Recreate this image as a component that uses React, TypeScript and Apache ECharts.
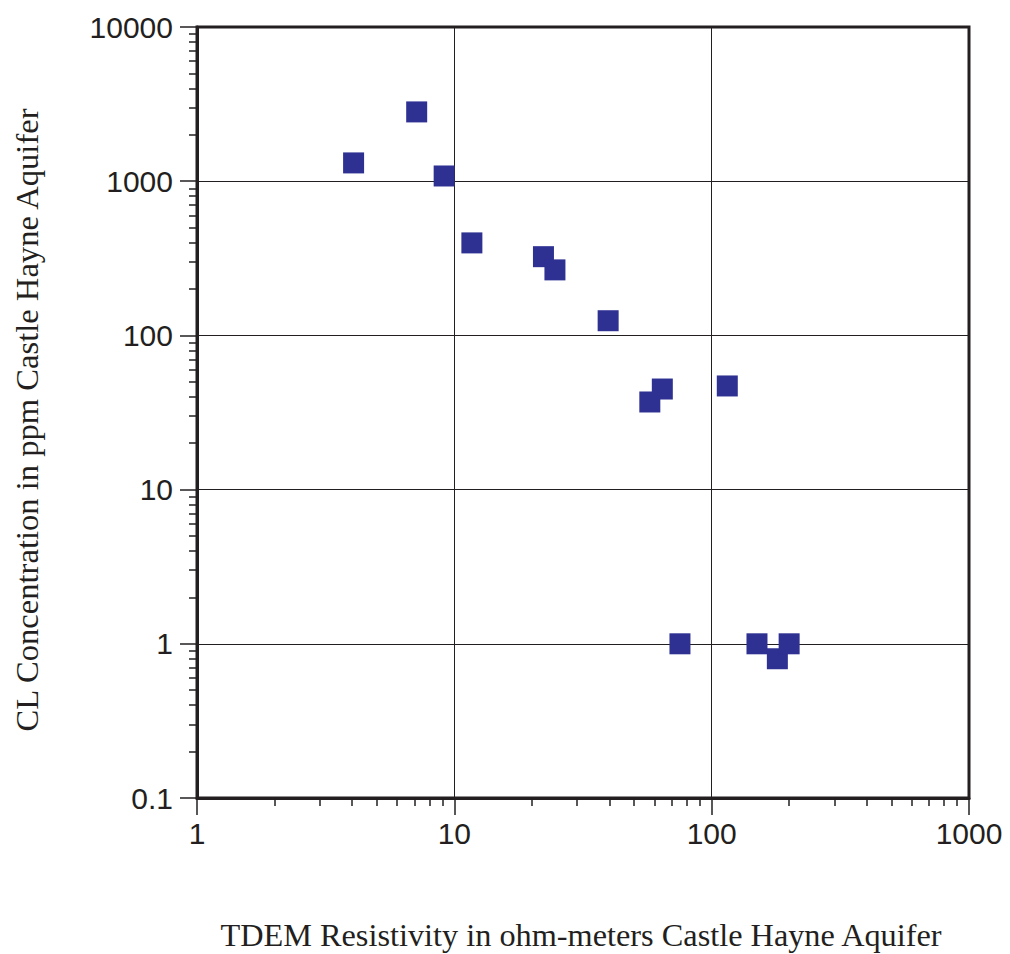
import React, { useEffect, useRef } from "react";
import * as echarts from "echarts";

// TDEM resistivity (ohm-m) vs CL concentration (ppm), Castle Hayne Aquifer
const resistivity = [4.06, 7.14, 9.13, 11.7, 22.2, 24.6, 39.6, 57.5, 64.3, 115, 75.3, 150, 180, 200];
const chloride = [1314, 2814, 1081, 398, 324, 266, 124.5, 37, 44.9, 47, 1, 1, 0.8, 1];

const xDecades = [1, 10, 100];
const yDecades = [0.1, 1, 10, 100, 1000];
const minorMultipliers = [2, 3, 4, 5, 6, 7, 8, 9];

const xTitle = "TDEM Resistivity in ohm-meters Castle Hayne Aquifer";
const yTitle = "CL Concentration in ppm Castle Hayne Aquifer";

const ink = "#231f20";
const markerColor = "#2e3192";
const sansFont = '"Liberation Sans", Arial, sans-serif';
const serifFont = '"Liberation Serif", "Times New Roman", serif';

const minorOf = (decades: number[]) => {
  const out: number[] = [];
  decades.forEach((d) => minorMultipliers.forEach((m) => out.push(+(d * m).toPrecision(6))));
  return out;
};

const fmt = (v: number) => (v < 1 ? v.toFixed(1) : String(Math.round(v)));

export default function App() {
  const ref = useRef<HTMLDivElement>(null);
  useEffect(() => {
    if (!ref.current) return;
    const chart = echarts.init(ref.current, undefined, { renderer: "svg" });
    const majorTick = { show: true, length: 17, inside: false, lineStyle: { color: ink, width: 1.5 } };
    const minorTickAxis = (vals: number[]) => ({
      show: true,
      length: 8,
      inside: false,
      customValues: vals,
      lineStyle: { color: ink, width: 1.5 },
    });
    const option: any = {
      animation: false,
      backgroundColor: "#ffffff",
      grid: {
        left: 197,
        top: 27,
        width: 772,
        height: 771,
        show: true,
        borderColor: ink,
        borderWidth: 3,
        backgroundColor: "transparent",
        containLabel: false,
      },
      xAxis: [
        {
          type: "log",
          logBase: 10,
          min: 1,
          max: 1000,
          position: "bottom",
          axisLine: { show: true, lineStyle: { color: ink, width: 3 } },
          axisTick: majorTick,
          axisLabel: { show: true, fontSize: 30, fontFamily: sansFont, color: ink, margin: 20, formatter: fmt },
          splitLine: { show: true, lineStyle: { color: ink, width: 1 } },
        },
        {
          type: "log",
          logBase: 10,
          min: 1,
          max: 1000,
          position: "bottom",
          axisLine: { show: false },
          axisTick: minorTickAxis(minorOf(xDecades)),
          axisLabel: { show: false },
          splitLine: { show: false },
        },
      ],
      yAxis: [
        {
          type: "log",
          logBase: 10,
          min: 0.1,
          max: 10000,
          position: "left",
          axisLine: { show: true, lineStyle: { color: ink, width: 3 } },
          axisTick: majorTick,
          axisLabel: { show: true, fontSize: 30, fontFamily: sansFont, color: ink, margin: 24, formatter: fmt },
          splitLine: { show: true, lineStyle: { color: ink, width: 1 } },
        },
        {
          type: "log",
          logBase: 10,
          min: 0.1,
          max: 10000,
          position: "left",
          axisLine: { show: false },
          axisTick: minorTickAxis(minorOf(yDecades)),
          axisLabel: { show: false },
          splitLine: { show: false },
        },
      ],
      series: [
        {
          type: "scatter",
          xAxisIndex: 0,
          yAxisIndex: 0,
          symbol: "rect",
          symbolSize: 21,
          itemStyle: { color: markerColor, opacity: 1 },
          data: resistivity.map((x, i) => [x, chloride[i]]),
        },
      ],
      graphic: [
        {
          type: "text",
          x: 581,
          y: 935,
          style: {
            text: xTitle,
            font: `32.3px ${serifFont}`,
            fill: ink,
            textAlign: "center",
            textVerticalAlign: "middle",
          },
        },
        {
          type: "text",
          x: 27,
          y: 420,
          rotation: Math.PI / 2,
          style: {
            text: yTitle,
            font: `32.6px ${serifFont}`,
            fill: ink,
            textAlign: "center",
            textVerticalAlign: "middle",
          },
        },
      ],
    };
    chart.setOption(option);
    return () => chart.dispose();
  }, []);
  return (
    <div
      ref={ref}
      style={{ position: "fixed", left: 0, top: 0, width: 1010, height: 954, background: "#fff" }}
    />
  );
}
